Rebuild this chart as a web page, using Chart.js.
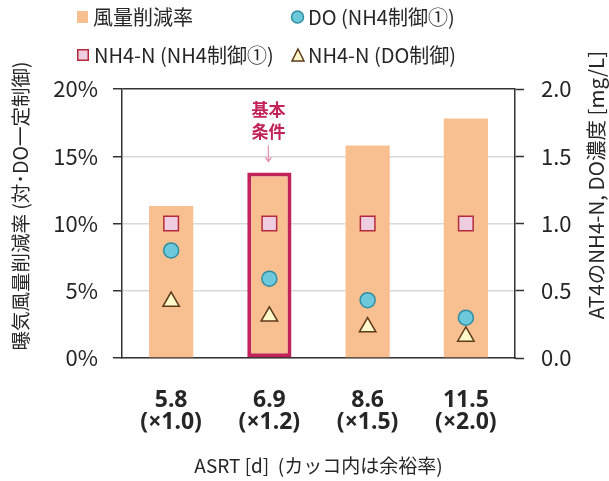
<!DOCTYPE html>
<html lang="ja">
<head>
<meta charset="utf-8">
<script src="https://cdn.jsdelivr.net/npm/chart.js@4/dist/chart.umd.min.js"></script>
<style>
  html, body { margin: 0; padding: 0; background: #fff; }
  #wrap { width: 609px; height: 481px; position: relative; }
</style>
</head>
<body>
<div id="wrap"><canvas id="c" width="609" height="481"></canvas></div>
<script>
// ASRT conditions and their safety-margin ratios
const asrtDays = ['5.8', '6.9', '8.6', '11.5'];
const marginRatios = ['(×1.0)', '(×1.2)', '(×1.5)', '(×2.0)'];

// Aeration air-flow reduction vs. constant-DO control [%]
const airReduction = [11.3, 13.8, 15.8, 17.8];
// DO under NH4 control ① [mg/L]
const doNh4Ctrl = [0.80, 0.59, 0.43, 0.30];
// NH4-N under NH4 control ① [mg/L]
const nh4Nh4Ctrl = [1.0, 1.0, 1.0, 1.0];
// NH4-N under DO control [mg/L]
const nh4DoCtrl = [0.42, 0.31, 0.23, 0.16];

// Axis ticks
const leftTicks = [0, 5, 10, 15, 20];
const rightTicks = [0, 0.5, 1.0, 1.5, 2.0];

const baseCaseIndex = 1;
const FONT = "'Noto Sans CJK JP', 'Noto Sans', sans-serif";
const LATIN = "'Noto Sans', 'Noto Sans CJK JP', sans-serif";
const TEXT = '#262626';
const AXIS = '#333333';

const COL_BAR = '#F8BF91';
const COL_DO = '#6CC8DA', COL_DO_B = '#2F8EA2';
const COL_SQ = '#EECDE1', COL_SQ_B = '#B52A3A';
const COL_TRI = '#FFF9CC', COL_TRI_B = '#5C3A17';
const COL_HI = '#C2245A';

const labels = asrtDays.map((d, i) => [d, marginRatios[i]]);

// Legend drawn in two columns above the plot
const legendPlugin = {
  id: 'twoColLegend',
  afterDraw(chart) {
    const ctx = chart.ctx;
    const ds = chart.data.datasets;
    ctx.save();
    ctx.font = '20px ' + FONT;
    ctx.fillStyle = TEXT;
    ctx.textBaseline = 'middle';
    ctx.textAlign = 'left';
    const items = [
      { d: ds[3], x: 77, y: 17, kind: 'bar' },
      { d: ds[0], x: 291, y: 17, kind: 'circle' },
      { d: ds[1], x: 77, y: 55, kind: 'rect' },
      { d: ds[2], x: 291, y: 55, kind: 'triangle' }
    ];
    items.forEach(it => {
      ctx.lineWidth = 1.5;
      let tx;
      if (it.kind === 'bar') {
        ctx.fillStyle = it.d.backgroundColor;
        ctx.fillRect(it.x, it.y - 6, 11, 12);
        tx = it.x + 16;
      } else if (it.kind === 'circle') {
        ctx.beginPath();
        ctx.arc(it.x + 6.5, it.y, 6, 0, Math.PI * 2);
        ctx.fillStyle = it.d.backgroundColor; ctx.fill();
        ctx.strokeStyle = it.d.borderColor; ctx.stroke();
        tx = it.x + 17;
      } else if (it.kind === 'rect') {
        ctx.fillStyle = it.d.backgroundColor;
        ctx.fillRect(it.x + 0.75, it.y - 5.25, 10.5, 10.5);
        ctx.strokeStyle = it.d.borderColor;
        ctx.strokeRect(it.x + 0.75, it.y - 5.25, 10.5, 10.5);
        tx = it.x + 17;
      } else {
        ctx.beginPath();
        ctx.moveTo(it.x + 7, it.y - 6);
        ctx.lineTo(it.x + 13, it.y + 6);
        ctx.lineTo(it.x + 1, it.y + 6);
        ctx.closePath();
        ctx.fillStyle = it.d.backgroundColor; ctx.fill();
        ctx.strokeStyle = it.d.borderColor; ctx.stroke();
        tx = it.x + 17;
      }
      ctx.fillStyle = TEXT;
      ctx.fillText(it.d.label, tx, it.y);
    });
    ctx.restore();
  }
};

// Vertical axis titles on both sides
const sideTitlesPlugin = {
  id: 'sideTitles',
  afterDraw(chart) {
    const ctx = chart.ctx;
    ctx.save();
    ctx.fillStyle = TEXT;
    ctx.textAlign = 'center';
    ctx.textBaseline = 'middle';
    [[chart.options.scales.y.title.text, 21, 206, 19.5], [chart.options.scales.y2.title.text, 596, 185, 20.5]]
      .forEach(([t, x, y, size]) => {
        ctx.save();
        ctx.font = size + 'px ' + FONT;
        ctx.translate(x, y);
        ctx.rotate(-Math.PI / 2);
        ctx.fillText(t, 0, 0);
        ctx.restore();
      });
    ctx.restore();
  }
};

// Callout above the base-case bar
const baseCasePlugin = {
  id: 'baseCase',
  afterDatasetsDraw(chart) {
    const meta = chart.getDatasetMeta(3);
    const bar = meta.data[baseCaseIndex];
    if (!bar) return;
    const ctx = chart.ctx;
    const x = bar.x, top = bar.y;
    ctx.save();
    ctx.fillStyle = COL_HI;
    ctx.font = 'bold 17px ' + FONT;
    ctx.textAlign = 'center';
    ctx.textBaseline = 'middle';
    ctx.fillText('基本', x - 1, top - 63);
    ctx.fillText('条件', x - 1, top - 41);
    ctx.strokeStyle = '#E58CAE';
    ctx.lineWidth = 1.2;
    ctx.beginPath();
    ctx.moveTo(x - 1, top - 27);
    ctx.lineTo(x - 1, top - 11);
    ctx.moveTo(x - 4, top - 15);
    ctx.lineTo(x - 1, top - 11);
    ctx.lineTo(x + 2, top - 15);
    ctx.stroke();
    ctx.restore();
  }
};

new Chart(document.getElementById('c'), {
  data: {
    labels: labels,
    datasets: [
      {
        type: 'line', label: 'DO (NH4制御①)', data: doNh4Ctrl, yAxisID: 'y2',
        showLine: false, pointStyle: 'circle', pointRadius: 7.5,
        backgroundColor: COL_DO, borderColor: COL_DO_B, pointBorderWidth: 1.5, order: 0
      },
      {
        type: 'line', label: 'NH4-N (NH4制御①)', data: nh4Nh4Ctrl, yAxisID: 'y2',
        showLine: false, pointStyle: 'rect', pointRadius: 10.3,
        backgroundColor: COL_SQ, borderColor: COL_SQ_B, pointBorderWidth: 1.5, order: 0
      },
      {
        type: 'line', label: 'NH4-N (DO制御)', data: nh4DoCtrl, yAxisID: 'y2',
        showLine: false, pointStyle: 'triangle', pointRadius: 9.5,
        backgroundColor: COL_TRI, borderColor: COL_TRI_B, pointBorderWidth: 1.5, order: 0
      },
      {
        type: 'bar', label: '風量削減率', data: airReduction, yAxisID: 'y',
        backgroundColor: COL_BAR,
        borderColor: COL_HI,
        borderWidth: airReduction.map((_, i) => i === baseCaseIndex ? 4 : 0),
        borderSkipped: false,
        categoryPercentage: 1.0, barPercentage: 0.45, order: 1
      }
    ]
  },
  options: {
    responsive: false,
    animation: false,
    events: [],
    layout: { padding: { top: 89, left: 0, right: 0, bottom: 0 } },
    plugins: { legend: { display: false }, tooltip: { enabled: false } },
    scales: {
      x: {
        type: 'category',
        offset: true,
        grid: { display: false, drawTicks: false },
        border: { display: true, color: AXIS, width: 1.5 },
        ticks: {
          color: TEXT, padding: 31, maxRotation: 0, autoSkip: false,
          font: { family: LATIN, size: 23, weight: 'bold', lineHeight: 0.96 }
        },
        title: {
          display: true, text: 'ASRT [d]  (カッコ内は余裕率)', color: TEXT,
          font: { family: FONT, size: 19, lineHeight: 1.2 },
          padding: { top: 0, bottom: 4 }
        },
        afterFit(scale) { scale.height = 123; }
      },
      y: {
        position: 'left', min: 0, max: 20,
        afterBuildTicks(scale) { scale.ticks = leftTicks.map(v => ({ value: v })); },
        grid: {
          color: ctx => (ctx.tick && ctx.tick.value === 20) ? AXIS : '#D9D9D9',
          lineWidth: 1.5, tickLength: 9, tickColor: AXIS, tickWidth: 1.5
        },
        border: { display: true, color: AXIS, width: 1.5 },
        ticks: {
          color: TEXT, padding: 15,
          font: { family: FONT, size: 22 },
          callback: v => v + '%'
        },
        title: { display: false, text: '曝気風量削減率 (対･DO一定制御)' },
        afterFit(scale) { scale.width = 122; }
      },
      y2: {
        position: 'right', min: 0, max: 2,
        afterBuildTicks(scale) { scale.ticks = rightTicks.map(v => ({ value: v })); },
        grid: {
          drawOnChartArea: false, tickLength: 9, tickColor: AXIS, tickWidth: 1.5
        },
        border: { display: true, color: AXIS, width: 1.5 },
        ticks: {
          color: TEXT, padding: 17,
          font: { family: FONT, size: 22 },
          callback: v => Number(v).toFixed(1)
        },
        title: { display: false, text: 'AT4のNH4-N, DO濃度 [mg/L]' },
        afterFit(scale) { scale.width = 94; }
      }
    }
  },
  plugins: [legendPlugin, sideTitlesPlugin, baseCasePlugin]
});
</script>
</body>
</html>
